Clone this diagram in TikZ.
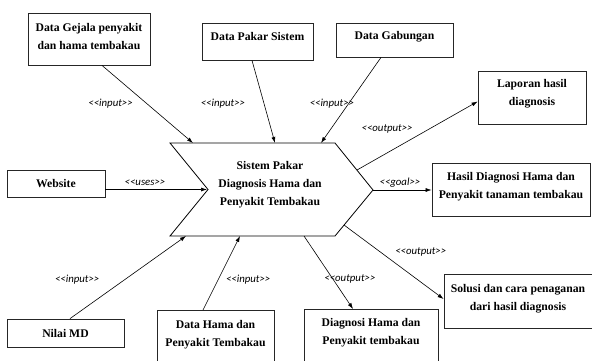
\documentclass[tikz,border=0pt]{standalone}
\usepackage{fontspec}
\setmainfont{Liberation Serif}
\newfontfamily\lblfont{Carlito}
\usetikzlibrary{arrows.meta,positioning}

\begin{document}
\begin{tikzpicture}[x=1pt,y=-1pt,->,>={Latex[length=6pt,width=4pt]},line width=0.6pt]
\tikzstyle{box}=[draw=black!85, line width=0.8pt, inner sep=1pt, align=center, font=\fontsize{11.7}{18}\selectfont\bfseries]
\tikzstyle{lbl}=[font=\lblfont\itshape\fontsize{10.8}{12}\selectfont, inner sep=1pt]
\useasboundingbox (0,0) rectangle (592,360);
% the system
\draw[-,line width=0.8pt] (170,143) -- (335,143) -- (373,190) -- (335,236) -- (170,236) -- (208,189.5) -- cycle;
\node[align=center, font=\fontsize{11.7}{18}\selectfont\bfseries] (sys) at (270,185) {Sistem Pakar\\Diagnosis Hama dan\\Penyakit Tembakau};
\foreach \name/\x/\y in {g/193/143, p/275/143, b/321/143, w/207/189.5, l/357/170, t/373/190, s/344/225, o/304/236, h/240/236, n/186/236}
    \coordinate (\name) at (\x,\y);
% inputs and outputs
\node[box, minimum width=122pt, minimum height=52pt, text depth=6pt] (gejala) at (89,39) {Data Gejala penyakit\\dan hama tembakau};
\node[box, minimum width=111pt, minimum height=37pt, text depth=11pt] (pakar) at (257.5,41.5) {Data Pakar Sistem};
\node[box, minimum width=117pt, minimum height=34pt, text depth=10pt] (gab) at (394.5,40) {Data Gabungan};
\node[box, minimum width=108pt, minimum height=53pt, text depth=11pt] (lap) at (532,97.5) {Laporan hasil\\diagnosis};
\node[box, minimum width=158pt, minimum height=53pt, text depth=10pt] (hasil) at (511,190) {Hasil Diagnosi Hama dan\\Penyakit tanaman tembakau};
\node[box, minimum width=98pt, minimum height=27pt, text depth=2pt] (web) at (56,184) {Website};
\node[box, minimum width=148pt, minimum height=54pt, text depth=8pt] (sol) at (518,301) {Solusi dan cara penaganan\\dari hasil diagnosis};
\node[box, minimum width=117pt, minimum height=28pt, text depth=0pt] (nilai) at (65.5,333) {Nilai MD};
\node[box, anchor=north, minimum width=117pt, minimum height=70pt, text depth=23pt] (dh) at (215.5,310) {Data Hama dan\\Penyakit Tembakau};
\node[box, anchor=north, minimum width=134pt, minimum height=70pt, text depth=26pt] (diag) at (371,309) {Diagnosi Hama dan\\Penyakit tembakau};
% connectors
\path ([xshift=13pt]gejala.south) edge node[lbl, pos=.49, xshift=-36pt] {<{}<input>{}>} (g);
\path ([xshift=-5.5pt]pakar.south) edge node[lbl, pos=.52, xshift=-41pt] {<{}<input>{}>} (p);
\path ([xshift=-13.5pt]gab.south) edge node[lbl, pos=.535, xshift=-17pt] {<{}<input>{}>} (b);
\path ([yshift=-5.5pt]web.east) edge node[lbl, pos=.39, yshift=7pt] {<{}<uses>{}>} (w);
\path (l) edge node[lbl, pos=.25, yshift=24pt] {<{}<output>{}>} ([yshift=-4pt]lap.west);
\path (t) edge node[lbl, pos=.46, yshift=7pt] {<{}<goal>{}>} (hasil.west);
\path (s) edge node[lbl, pos=.6, xshift=17pt, yshift=17pt] {<{}<output>{}>} ([yshift=2pt]sol.west);
\path (o) edge node[lbl, pos=.59, xshift=17pt] {<{}<output>{}>} ([xshift=-18pt]diag.north);
\path ([xshift=-12.5pt]dh.north) edge node[lbl, pos=.41, xshift=30pt] {<{}<input>{}>} (h);
\path ([xshift=4.5pt]nilai.north) edge node[lbl, pos=.476, xshift=-48pt] {<{}<input>{}>} (n);
\end{tikzpicture}
\end{document}
